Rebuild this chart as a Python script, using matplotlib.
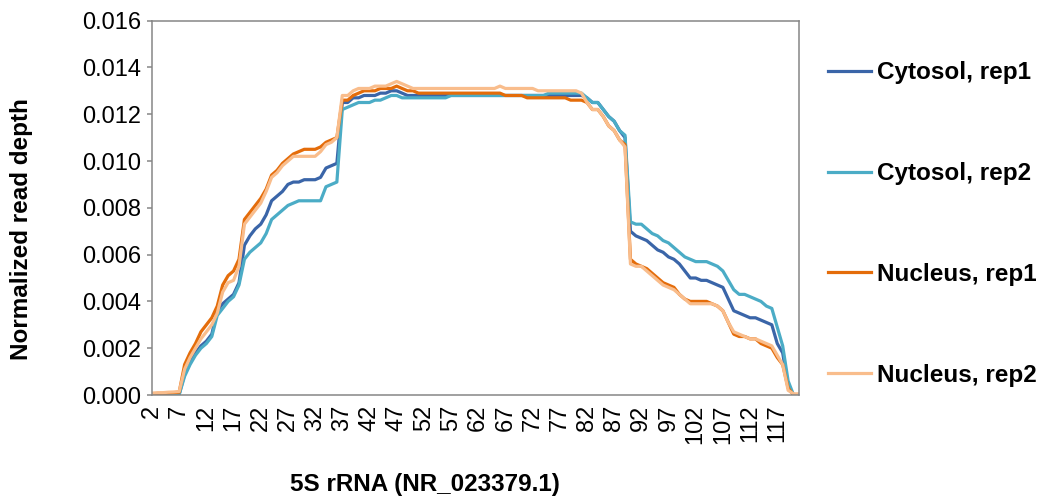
import numpy as np
import matplotlib
matplotlib.use('Agg')
import matplotlib.pyplot as plt

plt.rcParams['font.family'] = ['Liberation Sans', 'DejaVu Sans']

# nucleotide positions along 5S rRNA
positions = np.arange(2, 122)

cytosol_rep1 = [
	0, 0, 0, 0, 0, 0.00003,
	0.0009, 0.0014, 0.0018, 0.0021, 0.0023, 0.0026, 0.0036, 0.0039, 0.0041, 0.0043, 0.0048,
	0.0064, 0.0068, 0.0071, 0.0073, 0.0077, 0.0083, 0.0085, 0.0087, 0.0090, 0.0091, 0.0091,
	0.0092, 0.0092, 0.0092, 0.0093, 0.0097, 0.0098, 0.0099,
	0.0125, 0.0125, 0.0127, 0.0127, 0.0128, 0.0128, 0.0128, 0.0129, 0.0129, 0.0130, 0.0130,
	0.0129, 0.0128, 0.0128, 0.0128, 0.0128, 0.0128, 0.0128, 0.0128, 0.0128, 0.0128, 0.0128,
	0.0128, 0.0128, 0.0128, 0.0128, 0.0128, 0.0128, 0.0128, 0.0128, 0.0128, 0.0128, 0.0128,
	0.0128, 0.0128, 0.0128, 0.0128, 0.0128, 0.0128, 0.0128, 0.0128, 0.0128, 0.0128, 0.0128,
	0.0128, 0.0127, 0.0125, 0.0125, 0.0122, 0.0119, 0.0117, 0.0113, 0.0110,
	0.0070, 0.0068, 0.0067, 0.0066, 0.0064, 0.0062, 0.0061, 0.0059, 0.0058, 0.0056, 0.0053,
	0.0050, 0.0050, 0.0049, 0.0049, 0.0048, 0.0047, 0.0046, 0.0041, 0.0036, 0.0035, 0.0034,
	0.0033, 0.0033, 0.0032, 0.0031, 0.0030, 0.0022, 0.0018, 0.0004, 0, 0,
]
cytosol_rep2 = [
	0, 0, 0, 0, 0, 0.00002,
	0.0008, 0.0013, 0.0017, 0.0020, 0.0022, 0.0025, 0.0034, 0.0037, 0.0040, 0.0042, 0.0047,
	0.0058, 0.0061, 0.0063, 0.0065, 0.0069, 0.0075, 0.0077, 0.0079, 0.0081, 0.0082, 0.0083,
	0.0083, 0.0083, 0.0083, 0.0083, 0.0089, 0.0090, 0.0091,
	0.0122, 0.0123, 0.0124, 0.0125, 0.0125, 0.0125, 0.0126, 0.0126, 0.0127, 0.0128, 0.0128,
	0.0127, 0.0127, 0.0127, 0.0127, 0.0127, 0.0127, 0.0127, 0.0127, 0.0127, 0.0128, 0.0128,
	0.0128, 0.0128, 0.0128, 0.0128, 0.0128, 0.0128, 0.0128, 0.0128, 0.0128, 0.0128, 0.0128,
	0.0128, 0.0128, 0.0128, 0.0128, 0.0128, 0.0129, 0.0129, 0.0129, 0.0129, 0.0129, 0.0129,
	0.0129, 0.0127, 0.0125, 0.0125, 0.0122, 0.0119, 0.0117, 0.0113, 0.0111,
	0.0074, 0.0073, 0.0073, 0.0071, 0.0069, 0.0068, 0.0066, 0.0065, 0.0063, 0.0061, 0.0059,
	0.0058, 0.0057, 0.0057, 0.0057, 0.0056, 0.0055, 0.0053, 0.0049, 0.0045, 0.0043, 0.0043,
	0.0042, 0.0041, 0.0040, 0.0038, 0.0037, 0.0029, 0.0021, 0.0006, 0, 0,
]
nucleus_rep1 = [
	0.00005, 0.00006, 0.00007, 0.00008, 0.0001, 0.00012,
	0.0013, 0.0018, 0.0022, 0.0027, 0.0030, 0.0033, 0.0038, 0.0047, 0.0051, 0.0053, 0.0058,
	0.0075, 0.0078, 0.0081, 0.0084, 0.0088, 0.0094, 0.0096, 0.0099, 0.0101, 0.0103, 0.0104,
	0.0105, 0.0105, 0.0105, 0.0106, 0.0108, 0.0109, 0.0110,
	0.0126, 0.0126, 0.0128, 0.0129, 0.0130, 0.0130, 0.0130, 0.0131, 0.0131, 0.0131, 0.0132,
	0.0131, 0.0130, 0.0130, 0.0129, 0.0129, 0.0129, 0.0129, 0.0129, 0.0129, 0.0129, 0.0129,
	0.0129, 0.0129, 0.0129, 0.0129, 0.0129, 0.0129, 0.0129, 0.0129, 0.0128, 0.0128, 0.0128,
	0.0128, 0.0127, 0.0127, 0.0127, 0.0127, 0.0127, 0.0127, 0.0127, 0.0127, 0.0126, 0.0126,
	0.0126, 0.0125, 0.0122, 0.0122, 0.0119, 0.0115, 0.0113, 0.0109, 0.0107,
	0.0058, 0.0056, 0.0055, 0.0054, 0.0052, 0.0050, 0.0048, 0.0047, 0.0046, 0.0043, 0.0041,
	0.0040, 0.0040, 0.0040, 0.0040, 0.0039, 0.0038, 0.0036, 0.0031, 0.0026, 0.0025, 0.0025,
	0.0024, 0.0024, 0.0022, 0.0021, 0.0020, 0.0016, 0.0013, 0.0003, 0, 0,
]
nucleus_rep2 = [
	0.00008, 0.0001, 0.0001, 0.00012, 0.00013, 0.00015,
	0.0011, 0.0016, 0.0020, 0.0024, 0.0027, 0.0030, 0.0035, 0.0044, 0.0048, 0.0049, 0.0055,
	0.0073, 0.0076, 0.0079, 0.0082, 0.0087, 0.0093, 0.0095, 0.0098, 0.0100, 0.0102, 0.0102,
	0.0102, 0.0102, 0.0102, 0.0104, 0.0107, 0.0108, 0.0110,
	0.0128, 0.0128, 0.0130, 0.0131, 0.0131, 0.0131, 0.0132, 0.0132, 0.0132, 0.0133, 0.0134,
	0.0133, 0.0132, 0.0131, 0.0131, 0.0131, 0.0131, 0.0131, 0.0131, 0.0131, 0.0131, 0.0131,
	0.0131, 0.0131, 0.0131, 0.0131, 0.0131, 0.0131, 0.0131, 0.0132, 0.0131, 0.0131, 0.0131,
	0.0131, 0.0131, 0.0131, 0.0130, 0.0130, 0.0130, 0.0130, 0.0130, 0.0130, 0.0130, 0.0130,
	0.0129, 0.0125, 0.0122, 0.0122, 0.0119, 0.0115, 0.0113, 0.0109, 0.0106,
	0.0056, 0.0055, 0.0055, 0.0053, 0.0051, 0.0049, 0.0047, 0.0046, 0.0045, 0.0043, 0.0041,
	0.0039, 0.0039, 0.0039, 0.0039, 0.0039, 0.0038, 0.0036, 0.0031, 0.0027, 0.0026, 0.0025,
	0.0024, 0.0024, 0.0023, 0.0022, 0.0021, 0.0017, 0.0013, 0.0002, 0.00005, 0.00005,
]

series_names = ['Cytosol, rep1', 'Cytosol, rep2', 'Nucleus, rep1', 'Nucleus, rep2']
series_colors = ['#3A65A8', '#4BACC6', '#E46C0A', '#F9BD8C']

W, H = 1047, 499
fig = plt.figure(figsize=(W / 100, H / 100), dpi=100)
ax = fig.add_axes([152 / W, 1 - 395 / H, (799 - 152) / W, (395 - 20.6) / H])

for vals, name, col in zip([cytosol_rep1, cytosol_rep2, nucleus_rep1, nucleus_rep2], series_names, series_colors):
	ax.plot(positions, vals, color=col, lw=2.3, label=name, solid_joinstyle='round')

ax.set_xlim(2, 121)
ax.set_ylim(0, 0.016)

ax.set_yticks(np.arange(0, 0.0161, 0.002))
ax.set_yticklabels(['%.3f' % v for v in np.arange(0, 0.0161, 0.002)])
ax.set_xticks(np.arange(2, 118, 5))
ax.set_xticklabels([str(v) for v in range(2, 118, 5)], rotation=90)
ax.set_xticks(np.arange(2, 113, 10), minor=True)

ax.tick_params(axis='y', labelsize=17, length=3.6, width=1.1, color='#868686', pad=4)
ax.tick_params(axis='x', which='major', labelsize=17, length=0, pad=7)
ax.tick_params(axis='x', which='minor', length=3.6, width=1.1, color='#868686')

for sp in ax.spines.values():
	sp.set_color('#868686')
	sp.set_linewidth(1.1)

fig.text(22 / W, 1 - 229 / H, 'Normalized read depth', rotation=90, fontsize=17.5,
	fontweight='bold', ha='center', va='center')
fig.text(425 / W, 1 - 485 / H, '5S rRNA (NR_023379.1)', fontsize=17.5,
	fontweight='bold', ha='center', va='center')

ax.legend(loc='center left', bbox_to_anchor=(828 / W, 1 - 224 / H), bbox_transform=fig.transFigure,
	frameon=False, prop={'weight': 'bold', 'size': 17.5}, handlelength=1.75, handletextpad=0.25,
	labelspacing=3.2, borderpad=0, borderaxespad=0)

fig.savefig('out.png', dpi=100)
